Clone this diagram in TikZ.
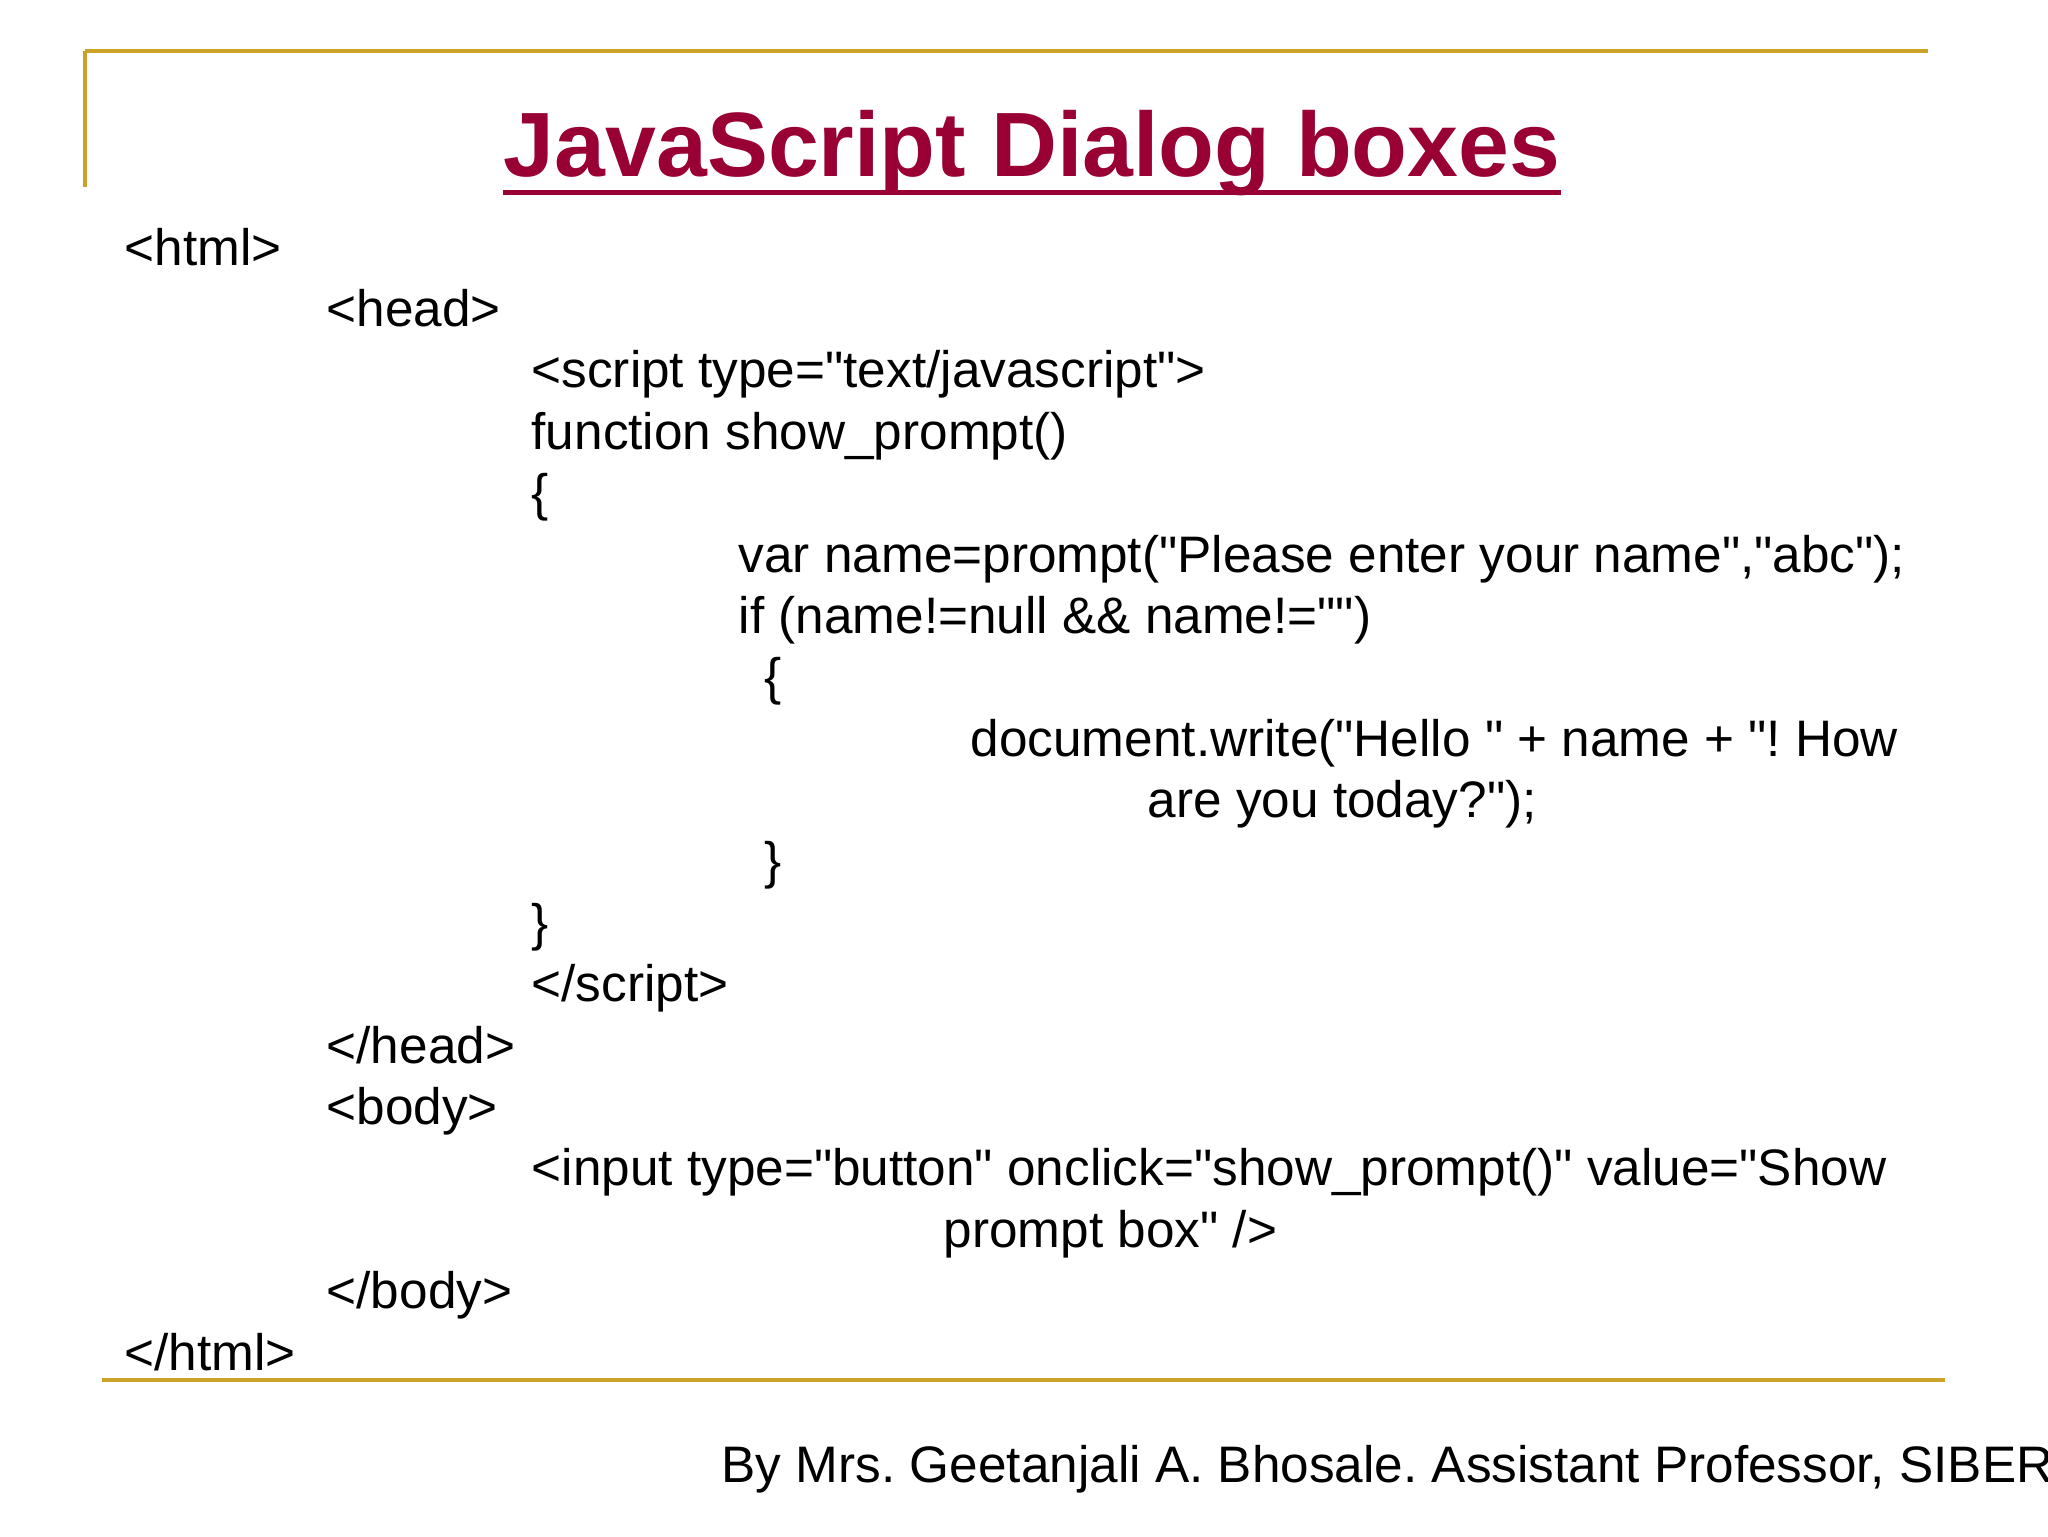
\documentclass[tikz,border=0pt]{standalone}
\usepackage{fontspec}
\setmainfont{Liberation Sans}[Ligatures=TeXOff]
\definecolor{gold}{HTML}{C9A227}
\definecolor{titlered}{HTML}{990033}
\def\q{\symbol{34}}
\frenchspacing
\begin{document}
\begin{tikzpicture}[x=0.1mm,y=-0.1mm,
  code/.style={anchor=base west,inner sep=0,font=\fontsize{14.6}{18}\selectfont}]
\useasboundingbox (0,0) rectangle (2048,1536);
\draw[gold,line width=0.45mm] (85,51) -- (1928,51);
\draw[gold,line width=0.45mm] (85,51) -- (85,187);
\draw[gold,line width=0.45mm] (102,1380) -- (1945,1380);
\node[anchor=base,inner sep=0,text=titlered,font=\fontsize{26}{30}\bfseries\selectfont] (title) at (1032,176) {JavaScript Dialog boxes};
\draw[titlered,line width=0.5mm] ([yshift=-1.6mm]title.base west) -- ([yshift=-1.6mm]title.base east);
\def\L#1#2#3{\node[code] (l#1) at (#2,{(203+47*#1)*1.306}) {#3};}
\L{0}{124}{<html>}
\L{1}{326}{<head>}
\L{2}{531}{<script type=\q text/javascript\q>}
\L{3}{531}{function show\_prompt()}
\L{4}{531}{\{}
\L{5}{738}{var name=prompt(\q Please enter your name\q,\q abc\q);}
\L{6}{738}{if (name!=null \&\& name!=\q\q)}
\L{7}{764}{\{}
\L{8}{970}{document.write(\q Hello \q{} + name + \q! How}
\L{9}{1147}{are you today?\q);}
\L{10}{764}{\}}
\L{11}{531}{\}}
\L{12}{531}{</script>}
\L{13}{326}{</head>}
\L{14}{326}{<body>}
\L{15}{531}{<input type=\q button\q{} onclick=\q show\_prompt()\q{} value=\q Show}
\L{16}{943}{prompt box\q{} />}
\L{17}{326}{</body>}
\L{18}{124}{</html>}
\node[code] (footer) at (721,1482) {By Mrs. Geetanjali A. Bhosale. Assistant Professor, SIBER};
\end{tikzpicture}
\end{document}
